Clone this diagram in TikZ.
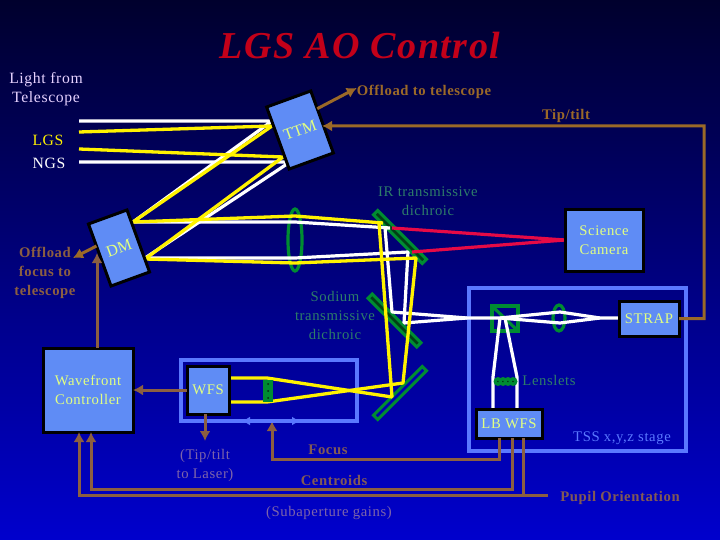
\documentclass[tikz,border=0pt]{standalone}
\usepackage{fontspec}
\setmainfont[LetterSpace=4]{Liberation Serif}
\usepackage{tikz}
\usetikzlibrary{arrows.meta}

\definecolor{skytop}{RGB}{0,0,45}
\definecolor{skymid}{RGB}{0,0,165}
\definecolor{skybot}{RGB}{0,0,205}
\definecolor{boxblue}{RGB}{95,140,245}
\definecolor{stageblue}{RGB}{90,120,255}
\definecolor{boxtext}{RGB}{225,255,130}
\definecolor{feedback}{RGB}{140,95,65}
\definecolor{labelbrown}{RGB}{130,90,85}
\definecolor{offloadbrown}{RGB}{155,105,40}
\definecolor{optgreen}{RGB}{0,140,50}
\definecolor{notegreen}{RGB}{45,125,105}
\definecolor{notepurple}{RGB}{125,100,170}
\definecolor{irred}{RGB}{230,10,70}
\definecolor{titlered}{RGB}{195,0,25}
\definecolor{lightnote}{RGB}{230,210,255}

\tikzset{
    lbl/.style={font=\fontsize{14.7}{19}\selectfont,align=center,inner sep=0pt},
    blbl/.style={lbl,font=\fontsize{14.7}{19}\selectfont\bfseries},
    biglbl/.style={lbl,font=\fontsize{15.7}{19}\selectfont},
    optbox/.style={draw=black,line width=3pt,fill=boxblue,text=boxtext,inner sep=0pt,
        outer sep=0pt,align=center,font=\fontsize{14.7}{19}\selectfont},
    tiltbox/.style={optbox,rotate=20,font=\fontsize{16}{19}\selectfont\addfontfeature{LetterSpace=0}},
    stagebox/.style={draw=stageblue,line width=3.1pt,inner sep=0pt,outer sep=0pt},
    mirrorbar/.style={draw=optgreen,line width=3.1pt,fill=black!55!optgreen,minimum width=69pt,
        minimum height=6pt,inner sep=0pt,outer sep=0pt},
    lensring/.style={draw=optgreen,line width=3.2pt},
    ctrl/.style={draw=feedback,line width=3pt,-{Latex[length=10pt,width=11pt]}},
    ctrltop/.style={ctrl,draw=offloadbrown},
    wire/.style={draw=feedback,line width=3pt},
    yray/.style={draw=yellow,line width=3.3pt,line join=bevel},
    wray/.style={draw=white,line width=3.2pt,line join=bevel},
    rray/.style={draw=irred,line width=3.2pt}
}

\begin{document}
\begin{tikzpicture}[x=1pt,y=-1pt]
    \shade[top color=skytop,middle color=skymid,bottom color=skybot] (0,0) rectangle (720,540);

    \node[font=\fontsize{38}{40}\selectfont\bfseries\itshape,text=titlered,inner sep=0pt] (title) at (360,46) {LGS AO Control};
    \node[biglbl,text=lightnote] (lightfrom) at (46,89) {Light from\\Telescope};
    \node[biglbl,text=yellow] (lgs) at (48,140) {LGS};
    \node[biglbl,text=white] (ngs) at (49,163) {NGS};
    \node[blbl,text=offloadbrown] (offtel) at (424,92) {Offload to telescope};
    \node[blbl,text=offloadbrown] (tiptilt) at (566,116) {Tip/tilt};
    \node[lbl,text=notegreen] (irnote) at (428,201.5) {IR transmissive\\dichroic};
    \node[lbl,text=notegreen] (sodnote) at (335,315) {Sodium\\transmissive\\dichroic};
    \node[blbl,text=feedback] (offfocus) at (45,272.5) {Offload\\focus to\\telescope};
    \node[lbl,text=notepurple] (tiplaser) at (205,465.5) {(Tip/tilt\\to Laser)};
    \node[blbl,text=labelbrown] (focus) at (328,450) {Focus};
    \node[blbl,text=labelbrown] (centroids) at (334,480) {Centroids};
    \node[lbl,text=notepurple] (subap) at (329,513) {(Subaperture gains)};
    \node[lbl,text=notegreen] (lensnote) at (549,380) {Lenslets};
    \node[lbl,text=stageblue] (tssnote) at (622,438) {TSS x,y,z stage};
    \node[blbl,text=labelbrown] (pupil) at (620,498) {Pupil Orientation};

    \node[stagebox,minimum width=176pt,minimum height=61pt] (wfsstage) at (269,390.5) {};
    \node[stagebox,minimum width=217pt,minimum height=163pt] (tss) at (577.5,369.5) {};

    \node[mirrorbar,rotate=-45] (irdich) at (400,237) {};
    \node[mirrorbar,rotate=-45] (soddich) at (394.5,320.5) {};
    \node[mirrorbar,rotate=45,fill=black!30!blue] (foldmirror) at (400,393) {};

    \draw[rray] (392,228) -- (565,240);
    \draw[rray] (412,252) -- (565,240);

    \draw[lensring] (295,240) ellipse (7 and 31);
    \draw[lensring] (559,318) ellipse (6 and 13);
    \draw[optgreen,line width=3.1pt] (492,306) rectangle (518,331);
    \draw[optgreen,line width=3.1pt] (492,306) -- (518,331);

    \draw[wray] (79,121) -- (272,121) -- (133,222) -- (295,222) -- (390,228) -- (385,228) -- (392,312) -- (467,318) -- (500,318);
    \draw[wray] (79,162) -- (290,162) -- (145,258) -- (295,258) -- (408,252) -- (404,323) -- (467,318);
    \draw[wray] (500,318) -- (560,312) -- (600,318) -- (618,318);
    \draw[wray] (500,318) -- (560,323) -- (600,318);
    \draw[wray] (500,318) -- (493,377) -- (493,408);
    \draw[wray] (505,318) -- (517,377) -- (517,408);

    \draw[yray] (79,132) -- (272,126) -- (133,222) -- (295,216) -- (383,223) -- (379,223) -- (392,397) -- (267,378) -- (230,378);
    \draw[yray] (79,149) -- (283,157) -- (145,259) -- (295,263) -- (416,258) -- (403,383) -- (267,402) -- (230,402);

    \fill[optgreen] (263,380) rectangle (273,402);
    \foreach \y in {384,391,398} {
        \fill[black!70!optgreen] (268,\y) circle (1pt);
      }
    \foreach \x in {498,503,508,513} {
        \fill[optgreen] (\x,381.5) circle (4.5pt);
        \fill[black!70!optgreen] (\x,381.5) circle (0.8pt);
      }

    \node[tiltbox,minimum width=47pt,minimum height=66pt] (ttm) at (300,130) {TTM};
    \node[tiltbox,minimum width=41pt,minimum height=66pt] (dm) at (119,248) {DM};
    \node[optbox,minimum width=78pt,minimum height=61pt] (science) at (604,240.5) {Science\\Camera};
    \node[optbox,minimum width=60pt,minimum height=35pt] (strap) at (649,318.5) {STRAP};
    \node[optbox,minimum width=90pt,minimum height=84pt] (wfc) at (88,390) {Wavefront\\Controller};
    \node[optbox,minimum width=42pt,minimum height=48pt] (wfs) at (208,390) {WFS};
    \node[optbox,minimum width=66pt,minimum height=29pt] (lbwfs) at (509,423.5) {LB WFS};

    \coordinate (tipturn) at (704,126);
    \coordinate (dmin) at (97,253);
    \coordinate (offfocusend) at (73,258);
    \coordinate (laserend) at (205,441);
    \coordinate (focusturn) at (272,459);
    \coordinate (centroidturn) at (91,489);
    \coordinate (pupilturn) at (79,495);
    \coordinate (pupilend) at (548,495);

    \draw[ctrltop] (strap.east) -| (tipturn) -- ([yshift=-4pt]ttm.east);
    \draw[ctrltop] (ttm.31) -- ([yshift=4pt]offtel.west);
    \draw[ctrltop] (dm.155) -- (offfocusend);
    \draw[ctrl] ([xshift=9pt]wfc.north) -- (dmin);
    \draw[ctrl] (wfs.west) -- (wfc.east);
    \draw[ctrl] ([xshift=-3pt]wfs.south) -- (laserend);
    \draw[ctrl] ([xshift=-10pt]lbwfs.south) |- (focusturn) -- ([xshift=3pt]wfsstage.south);
    \draw[ctrl] ([xshift=3pt]lbwfs.south) |- (centroidturn) -- ([xshift=3pt]wfc.south);
    \draw[ctrl] (pupilend) -- (pupilturn) -- ([xshift=-9pt]wfc.south);
    \draw[wire] ([xshift=14pt]lbwfs.south) -- ++(0,57);
    \draw[stageblue,line width=3.1pt,{Latex[length=8pt,width=9pt]}-{Latex[length=8pt,width=9pt]}] ([xshift=-27pt]wfsstage.south) -- ([xshift=31pt]wfsstage.south);
  \end{tikzpicture}
\end{document}
